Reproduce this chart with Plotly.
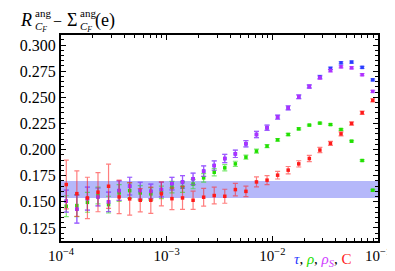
import plotly.graph_objects as go

# log10 of the x positions
log_x = [-3.95, -3.85, -3.75, -3.65, -3.55, -3.45, -3.35, -3.25, -3.15, -3.05,
         -2.95, -2.85, -2.75, -2.65, -2.55, -2.45, -2.35, -2.25, -2.15, -2.05,
         -1.95, -1.85, -1.75, -1.65, -1.55, -1.45, -1.35, -1.25, -1.15, -1.05]
x_vals = [10 ** v for v in log_x]

tau = [0.1506, 0.1430, 0.1530, 0.1547, 0.1499, 0.1607, 0.1650, 0.1607, 0.1600, 0.1617,
       0.1674, 0.1690, 0.1720, 0.1793, 0.1847, 0.1914, 0.1959, 0.2055, 0.2144, 0.2208,
       0.2310, 0.2399, 0.2505, 0.2603, 0.2696, 0.2776, 0.2830, 0.2837, 0.2786, 0.2667]
tau_err = [0.0105, 0.0134, 0.0110, 0.0085, 0.0093, 0.0094, 0.0085, 0.0080, 0.0070, 0.0070,
           0.0060, 0.0060, 0.0055, 0.0050, 0.0045, 0.0040, 0.0035, 0.0030, 0.0030, 0.0025,
           0.0020, 0.0020, 0.0018, 0.0016, 0.0015, 0.0012, 0.0010, 0.0010, 0.0010, 0.0010]

rho = [0.1458, 0.1464, 0.1495, 0.1560, 0.1473, 0.1585, 0.1607, 0.1585, 0.1576, 0.1590,
       0.1640, 0.1640, 0.1670, 0.1729, 0.1783, 0.1825, 0.1863, 0.1927, 0.1985, 0.2033,
       0.2093, 0.2144, 0.2198, 0.2234, 0.2253, 0.2239, 0.2192, 0.2080, 0.1895, 0.1611]
rho_err = [0.0100, 0.0105, 0.0095, 0.0080, 0.0080, 0.0080, 0.0075, 0.0070, 0.0060, 0.0060,
           0.0055, 0.0050, 0.0045, 0.0040, 0.0035, 0.0030, 0.0025, 0.0020, 0.0020, 0.0015,
           0.0012, 0.0010, 0.0010, 0.0008, 0.0008, 0.0008, 0.0008, 0.0008, 0.0008, 0.0008]

rhoS = [0.1506, 0.1430, 0.1530, 0.1547, 0.1499, 0.1607, 0.1650, 0.1607, 0.1600, 0.1617,
        0.1674, 0.1690, 0.1720, 0.1793, 0.1847, 0.1914, 0.1959, 0.2055, 0.2144, 0.2208,
        0.2310, 0.2399, 0.2505, 0.2603, 0.2687, 0.2756, 0.2792, 0.2782, 0.2716, 0.2556]
rhoS_err = tau_err

C = [0.1665, 0.1578, 0.1537, 0.1592, 0.1649, 0.1547, 0.1528, 0.1515, 0.1515, 0.1576,
     0.1530, 0.1537, 0.1515, 0.1544, 0.1560, 0.1553, 0.1617, 0.1600, 0.1690, 0.1707,
     0.1755, 0.1803, 0.1863, 0.1914, 0.1995, 0.2059, 0.2150, 0.2249, 0.2352, 0.2471]
C_err = [0.0233, 0.0217, 0.0198, 0.0187, 0.0212, 0.0160, 0.0155, 0.0112, 0.0125, 0.0115,
         0.0104, 0.0110, 0.0088, 0.0085, 0.0080, 0.0067, 0.0060, 0.0050, 0.0048, 0.0043,
         0.0037, 0.0035, 0.0030, 0.0030, 0.0025, 0.0020, 0.0020, 0.0015, 0.0015, 0.0015]

band_lo, band_hi = 0.1537, 0.1700

y_ticks = [0.125, 0.150, 0.175, 0.200, 0.225, 0.250, 0.275, 0.300]
x_ticks = [1e-4, 1e-3, 1e-2, 1e-1]
x_tick_text = ["10<sup>\u22124</sup>", "10<sup>\u22123</sup>", "10<sup>\u22122</sup>", "10<sup>\u22121</sup>"]

series = [
    (tau, tau_err, "#2a3cff", "rgba(60,80,255,0.6)"),
    (rho, rho_err, "#22e000", "rgba(40,220,20,0.6)"),
    (rhoS, rhoS_err, "#b030ff", "rgba(176,48,255,0.6)"),
    (C, C_err, "#ff1a1a", "rgba(255,40,40,0.6)"),
]

fig = go.Figure()
fig.add_hrect(y0=band_lo, y1=band_hi, fillcolor="rgba(120,125,245,0.55)",
              line_width=0, layer="below")

for ys, es, col, ecol in series:
    fig.add_trace(go.Scatter(
        x=x_vals, y=ys, mode="markers",
        marker=dict(symbol="square", size=3.5, color=col, line_width=0),
        error_y=dict(type="data", array=es, visible=True, color=ecol,
                     thickness=1.2, width=2.5),
        showlegend=False))

serif = "Liberation Serif"
fig.update_layout(
    width=395, height=271,
    margin=dict(l=45, r=17, t=27, b=38),
    paper_bgcolor="white", plot_bgcolor="white",
    font=dict(family=serif, size=15, color="black"),
    xaxis=dict(type="log", range=[-4, -1], showgrid=False, zeroline=False,
               tickvals=x_ticks, ticktext=x_tick_text,
               ticks="inside", ticklen=5, tickwidth=1, tickcolor="black",
               showline=True, linewidth=2, linecolor="black", mirror="allticks",
               minor=dict(ticks="inside", ticklen=3, tickcolor="black",
                          tickvals=[k * 10 ** e for e in (-4, -3, -2) for k in range(2, 10)]),
               tickfont=dict(family=serif, size=15, color="black")),
    yaxis=dict(range=[0.1125, 0.3096], showgrid=False, zeroline=False,
               tickvals=y_ticks, tickformat=".3f",
               ticks="inside", ticklen=5, tickwidth=1, tickcolor="black",
               showline=True, linewidth=2, linecolor="black", mirror="allticks",
               minor=dict(ticks="inside", ticklen=3, tickcolor="black", dtick=0.005),
               tickfont=dict(family=serif, size=16, color="black")),
)

def px_x(p):
    return (p - 45) / 333.0

def px_y(p):
    return (233 - p) / 206.0

def ann(text, x, y, size, xanchor="left", yanchor="middle", color="black"):
    fig.add_annotation(text=text, x=px_x(x), y=px_y(y), xref="paper", yref="paper",
                       xanchor=xanchor, yanchor=yanchor, showarrow=False, borderpad=0,
                       font=dict(family=serif, size=size, color=color))

# title: R^ang_{C_F} - Sigma^ang_{C_F}(e)
ann("<i>R</i>", 1, 12, 18)
ann("ang", 17, 5, 11)
ann("<i>C</i><sub><i>F</i></sub>", 17, 19, 11)
ann("\u2212", 36, 13, 16)
ann("\u03a3", 50, 12, 18)
ann("ang", 64, 5, 11)
ann("<i>C</i><sub><i>F</i></sub>", 64, 19, 11)
ann("(e)", 80, 12, 18)

# bottom-right series key
ann("<span style='color:#2a3cff'><i>\u03c4</i></span>, "
    "<span style='color:#22e000'><i>\u03c1</i></span>, "
    "<span style='color:#d040ff'><i>\u03c1</i><sub><i>S</i></sub></span>, "
    "<span style='color:#ff1a1a'>C</span>", 320, 252, 15, xanchor="center", yanchor="middle")

fig.write_html("out.html")
